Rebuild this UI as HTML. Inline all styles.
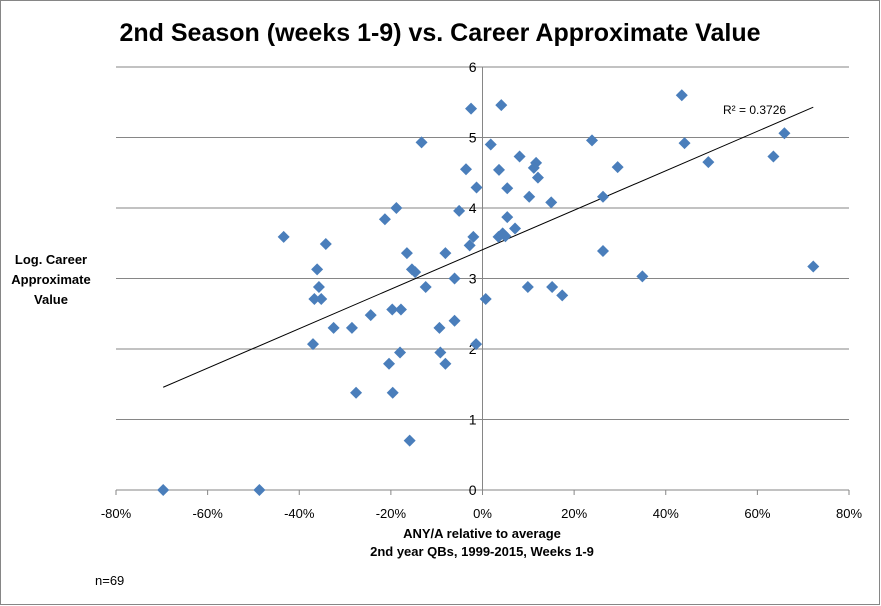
<!DOCTYPE html>
<html><head><meta charset="utf-8"><style>
body{margin:0;background:#fff;}
svg{display:block;font-family:"Liberation Sans",sans-serif;}
</style></head><body>
<svg id="chart" width="881" height="606" viewBox="0 0 881 606" xmlns="http://www.w3.org/2000/svg">
<rect x="0.5" y="0.5" width="879" height="604" fill="#fff" stroke="#868686"/>
<text x="440" y="41" text-anchor="middle" font-size="25" font-weight="bold" fill="#000">2nd Season (weeks 1-9) vs. Career Approximate Value</text>
<g id="grid"></g>
<g id="xticks"></g>
<g id="yticks"></g>
<g id="trend"></g>
<g id="points"></g>
<text x="723" y="114" font-size="12" fill="#000">R² = 0.3726</text>
<g font-size="13" font-weight="bold" text-anchor="middle">
<text x="51" y="264">Log. Career</text>
<text x="51" y="284">Approximate</text>
<text x="51" y="304">Value</text>
</g>
<g font-size="13" font-weight="bold" text-anchor="middle">
<text x="482" y="538">ANY/A relative to average</text>
<text x="482" y="556">2nd year QBs, 1999-2015, Weeks 1-9</text>
</g>
<text x="95" y="585" font-size="13" fill="#000">n=69</text>
</svg>
<script>
const xTicks=[-80,-60,-40,-20,0,20,40,60,80];
const yTicks=[0,1,2,3,4,5,6];
const xVals=[-69.7,-48.7,-43.4,-34.2,-36.1,-35.7,-36.7,-35.2,-37.0,-32.5,-28.5,-24.4,-27.6,-21.3,-18.8,-19.7,-17.8,-20.4,-19.6,-18.0,-15.9,-16.5,-15.4,-14.7,-13.3,-12.4,-8.1,-9.4,-9.2,-8.1,-6.1,-6.1,-5.1,-3.6,-2.5,-1.3,-2.0,-2.8,-1.4,0.7,1.8,4.1,3.6,5.4,8.1,11.7,11.2,12.1,10.2,5.4,7.1,4.4,3.5,5.0,15.0,9.9,15.2,17.4,23.9,29.5,26.3,26.3,34.9,43.5,44.1,49.3,63.5,65.9,72.2];
const yVals=[0,0,3.59,3.49,3.13,2.88,2.71,2.71,2.07,2.30,2.30,2.48,1.38,3.84,4.00,2.56,2.56,1.79,1.38,1.95,0.70,3.36,3.13,3.09,4.93,2.88,3.36,2.30,1.95,1.79,3.00,2.40,3.96,4.55,5.41,4.29,3.59,3.47,2.07,2.71,4.90,5.46,4.54,4.28,4.73,4.64,4.57,4.43,4.16,3.87,3.71,3.64,3.59,3.60,4.08,2.88,2.88,2.76,4.96,4.58,4.16,3.39,3.03,5.60,4.92,4.65,4.73,5.06,3.17];
const NS="http://www.w3.org/2000/svg";
const X0=116,X1=849,Y0=490,Y1=67;
const sx=v=>X0+(v-(-80))/160*(X1-X0);
const sy=v=>Y0-(v-0)/6*(Y0-Y1);
function mk(tag,attrs,parent){const e=document.createElementNS(NS,tag);for(const k in attrs)e.setAttribute(k,attrs[k]);parent.appendChild(e);return e;}
const grid=document.getElementById('grid'),xg=document.getElementById('xticks'),yg=document.getElementById('yticks');
yTicks.forEach(t=>{
 const l=mk('line',{x1:X0,x2:X1,y1:sy(t),y2:sy(t),stroke:'#868686','stroke-width':1},grid);
 
 
 const tx=mk('text',{x:sx(0)-6,y:sy(t)+5,'text-anchor':'end','font-size':14,fill:'#000'},yg);
 tx.textContent=t;
 
 
});
const ax=mk('line',{x1:sx(0),x2:sx(0),y1:Y1,y2:Y0+5,stroke:'#868686'},yg);


xTicks.forEach(t=>{
 const m=mk('line',{x1:sx(t),x2:sx(t),y1:Y0,y2:Y0+5,stroke:'#868686'},xg);
 
 
 const tx=mk('text',{x:sx(t),y:Y0+28,'text-anchor':'middle','font-size':13,fill:'#000'},xg);
 tx.textContent=t+'%';
 
 
});
const n=xVals.length;let mx=0,my=0;for(let i=0;i<n;i++){mx+=xVals[i];my+=yVals[i];}mx/=n;my/=n;
let sxy=0,sxx=0;for(let i=0;i<n;i++){sxy+=(xVals[i]-mx)*(yVals[i]-my);sxx+=(xVals[i]-mx)**2;}
const b=sxy/sxx,a=my-b*mx;const xmin=Math.min(...xVals),xmax=Math.max(...xVals);
const tl=mk('line',{x1:sx(xmin),y1:sy(a+b*xmin),x2:sx(xmax),y2:sy(a+b*xmax),stroke:'#000','stroke-width':1},document.getElementById('trend'));


const pg=document.getElementById('points');
for(let i=0;i<n;i++){
 const cx=sx(xVals[i]),cy=sy(yVals[i]),r=6;
 const p=mk('polygon',{points:`${cx},${cy-r} ${cx+r},${cy} ${cx},${cy+r} ${cx-r},${cy}`,fill:'#4a7ebb'},pg);
 
 
}
</script>
</body></html>
